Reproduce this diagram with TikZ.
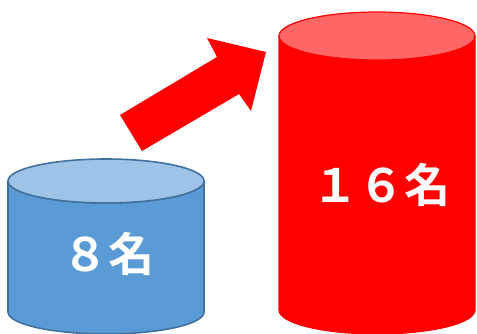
\documentclass[tikz,border=0pt]{standalone}
\usepackage{fontspec}
\newfontfamily\cjk{Noto Sans CJK JP Bold}
\definecolor{bbody}{HTML}{5B9BD5}
\definecolor{btop}{HTML}{9DC3E6}
\definecolor{bline}{HTML}{41719C}
\definecolor{rbody}{HTML}{FF0000}
\definecolor{rtop}{HTML}{FF6666}
\tikzset{
  bluecyl/.style={fill=bbody, draw=bline, line width=1.6pt, line join=round},
  bluetop/.style={fill=btop, draw=bline, line width=1.6pt},
  redcyl/.style={fill=rbody, draw=rbody, line width=1.2pt, line join=round},
  redtop/.style={fill=rtop, draw=rbody, line width=1.2pt},
  label/.style={text=white, font=\cjk\fontsize{46}{50}\selectfont, inner sep=0pt},
  blockarrow/.style={fill=rbody, draw=none}
}
\begin{document}
\begin{tikzpicture}[x=1pt,y=-1pt]
\useasboundingbox (0,0) rectangle (477,334);
% blue cylinder
\draw[bluecyl] (8,181) -- (8,312) arc[start angle=180, end angle=0, x radius=98, y radius=22] -- (204,181) arc[start angle=0, end angle=180, x radius=98, y radius=22] -- cycle;
\draw[bluetop] (106,181) ellipse[x radius=98, y radius=22];
\node[label] (small) at (108,254) {８名};
% red cylinder
\draw[redcyl] (279,36) -- (279,310) arc[start angle=180, end angle=0, x radius=98, y radius=24] -- (475,36) arc[start angle=0, end angle=180, x radius=98, y radius=24] -- cycle;
\draw[redtop] (377,36) ellipse[x radius=98, y radius=24];
\node[label] (large) at (381,185) {１６名};
% arrow
\fill[blockarrow] (120,115) -- (217,57) -- (207,38) -- (266,52) -- (251,111) -- (239,94) -- (142,151) -- cycle;
\end{tikzpicture}
\end{document}
